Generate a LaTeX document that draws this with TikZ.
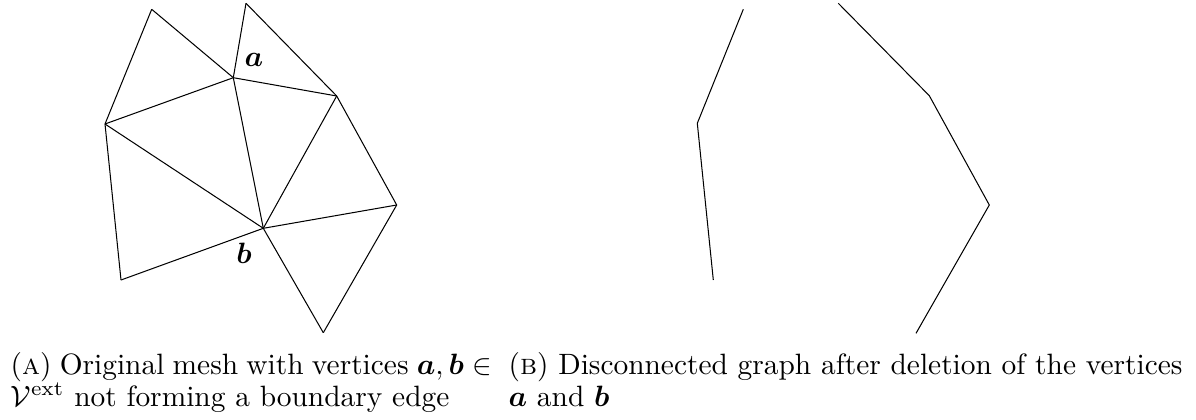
\documentclass[tikz,border=0pt]{standalone}
\usepackage{amsmath,amssymb,bm}
\begin{document}
\begin{tikzpicture}[x=0.3401pt,y=-0.3401pt,
  edge/.style={draw=black,line width=0.35pt},
  lbl/.style={inner sep=0pt},
  capline/.style={anchor=base west,inner sep=0pt}]
\useasboundingbox (0,0) rectangle (1196,419);
% mesh vertices
\coordinate (p1) at (151.7,9.3);
\coordinate (p2) at (246,3.3);
\coordinate (a) at (233.3,77.7);
\coordinate (r1) at (336.7,96);
\coordinate (l) at (105,124);
\coordinate (r2) at (396.7,205);
\coordinate (b) at (263.3,228.3);
\coordinate (bl) at (121,280);
\coordinate (bo) at (323.3,332.7);
\draw[edge] (p1) -- (a);
\draw[edge] (p1) -- (l);
\draw[edge] (p2) -- (a);
\draw[edge] (p2) -- (r1);
\draw[edge] (a) -- (r1);
\draw[edge] (a) -- (l);
\draw[edge] (a) -- (b);
\draw[edge] (l) -- (b);
\draw[edge] (l) -- (bl);
\draw[edge] (r1) -- (b);
\draw[edge] (r1) -- (r2);
\draw[edge] (b) -- (r2);
\draw[edge] (b) -- (bl);
\draw[edge] (b) -- (bo);
\draw[edge] (r2) -- (bo);
\node[lbl] (la) at (254,60) {$\bm{a}$};
\node[lbl] (lb) at (244,253) {$\bm{b}$};
% graph after deletion
\coordinate (q1) at (743.3,9.3);
\coordinate (ql) at (697.3,123.3);
\coordinate (qbl) at (713.3,280);
\coordinate (q2) at (838.3,3.3);
\coordinate (qr1) at (929.3,95.7);
\coordinate (qr2) at (989.3,205);
\coordinate (qbo) at (916,333.3);
\draw[edge] (q1) -- (ql) -- (qbl);
\draw[edge] (q2) -- (qr1) -- (qr2) -- (qbo);
% captions
\node[capline] (ca1) at (10,374) {\hbox to 163.6pt{(\textsc{a}) Original mesh with vertices $\bm{a},\bm{b}\in$}};
\node[capline] (ca2) at (10,406) {$\mathcal{V}^{\text{ext}}$ not forming a boundary edge};
\node[capline] (cb1) at (508,374) {(\textsc{b}) Disconnected graph after deletion of the vertices};
\node[capline] (cb2) at (508,406) {$\bm{a}$ and $\bm{b}$};
\end{tikzpicture}
\end{document}
